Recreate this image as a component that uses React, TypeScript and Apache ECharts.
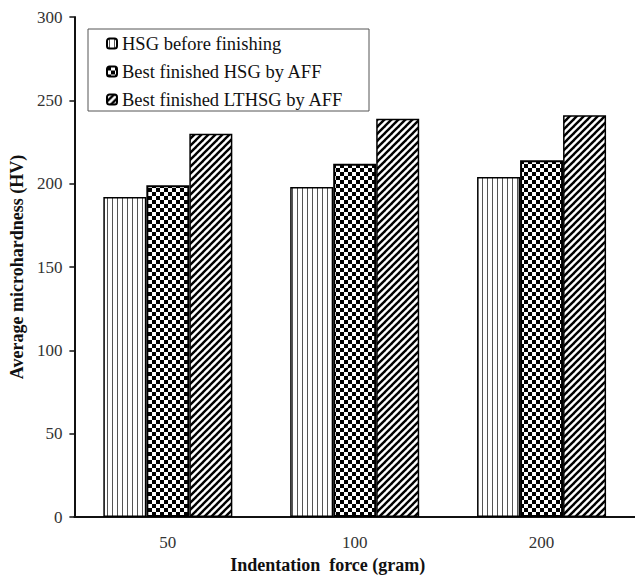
import React, { useEffect, useRef } from 'react';
import * as echarts from 'echarts';

const categories = ['50', '100', '200'];
const seriesNames = ['HSG before finishing', 'Best finished HSG by AFF', 'Best finished LTHSG by AFF'];
const hsgBefore = [192, 198, 204];
const bestHsg = [199, 212, 214];
const bestLthsg = [230, 239, 241];
const yMin = 0;
const yMax = 300;
const yInterval = 50;
const xTitle = 'Indentation  force (gram)';
const yTitle = 'Average microhardness (HV)';

const FONT = '"Liberation Serif", "Times New Roman", serif';

function makeTile(w: number, h: number, draw: (ctx: CanvasRenderingContext2D) => void) {
  const c = document.createElement('canvas');
  c.width = w;
  c.height = h;
  const ctx = c.getContext('2d') as CanvasRenderingContext2D;
  ctx.fillStyle = '#ffffff';
  ctx.fillRect(0, 0, w, h);
  draw(ctx);
  return { image: c, repeat: 'repeat', imageWidth: w, imageHeight: h } as any;
}

export default function App() {
  const ref = useRef<HTMLDivElement>(null);
  useEffect(() => {
    if (!ref.current) return;
    const chart = echarts.init(ref.current, null, { renderer: 'svg' });

    const vertical = makeTile(5, 5, (ctx) => {
      ctx.fillStyle = '#555555';
      ctx.fillRect(2, 0, 1, 5);
    });
    const checker = makeTile(8, 8, (ctx) => {
      ctx.fillStyle = '#000000';
      ctx.fillRect(0, 0, 4, 4);
      ctx.fillRect(4, 4, 4, 4);
    });
    const diagonal = makeTile(7, 7, (ctx) => {
      ctx.strokeStyle = '#000000';
      ctx.lineWidth = 2.4;
      for (const o of [-7, 0, 7]) {
        ctx.beginPath();
        ctx.moveTo(o - 1, 8);
        ctx.lineTo(o + 8, -1);
        ctx.stroke();
      }
    });

    const mk = (name: string, data: number[], fill: any, bw: number) => ({
      name,
      type: 'bar',
      data,
      barWidth: 43,
      barGap: '0%',
      itemStyle: { color: fill, borderColor: '#000', borderWidth: bw },
    });

    chart.setOption({
      animation: false,
      backgroundColor: '#ffffff',
      grid: { left: 73, top: 17, width: 566, bottom: 57 },
      legend: {
        orient: 'vertical',
        left: 106,
        top: 33,
        padding: 0,
        itemWidth: 10,
        itemHeight: 10,
        itemGap: 7,
        textStyle: { fontFamily: FONT, fontSize: 18.5, color: '#111', lineHeight: 21 },
        data: seriesNames,
      },
      graphic: [
        {
          type: 'rect',
          shape: { x: 88, y: 29, width: 281, height: 82 },
          style: { fill: 'none', stroke: '#555', lineWidth: 1 },
          silent: true,
        },
      ],
      xAxis: {
        type: 'category',
        data: categories,
        name: xTitle,
        nameLocation: 'middle',
        nameGap: 39,
        nameTextStyle: { fontFamily: FONT, fontSize: 18, fontWeight: 'bold', color: '#111', padding: [0, 54, 0, 0] },
        axisLine: { lineStyle: { color: '#111', width: 2 } },
        axisTick: { alignWithLabel: true, length: 4, lineStyle: { color: '#111', width: 1.5 } },
        axisLabel: { fontFamily: FONT, fontSize: 17, color: '#333', margin: 17 },
      },
      yAxis: {
        type: 'value',
        min: yMin,
        max: yMax,
        interval: yInterval,
        name: yTitle,
        nameLocation: 'middle',
        nameGap: 46,
        nameTextStyle: { fontFamily: FONT, fontSize: 18, fontWeight: 'bold', color: '#111' },
        axisLine: { show: true, lineStyle: { color: '#111', width: 2 } },
        axisTick: { show: true, length: 5, lineStyle: { color: '#111', width: 1.5 } },
        axisLabel: { fontFamily: FONT, fontSize: 17, color: '#333', margin: 12 },
        splitLine: { show: false },
      },
      series: [
        mk(seriesNames[0], hsgBefore, vertical, 1.5),
        mk(seriesNames[1], bestHsg, checker, 2),
        mk(seriesNames[2], bestLthsg, diagonal, 1.5),
      ],
    });
    return () => chart.dispose();
  }, []);
  return <div ref={ref} style={{ width: 635, height: 579, position: 'absolute', left: 0, top: 0 }} />;
}
